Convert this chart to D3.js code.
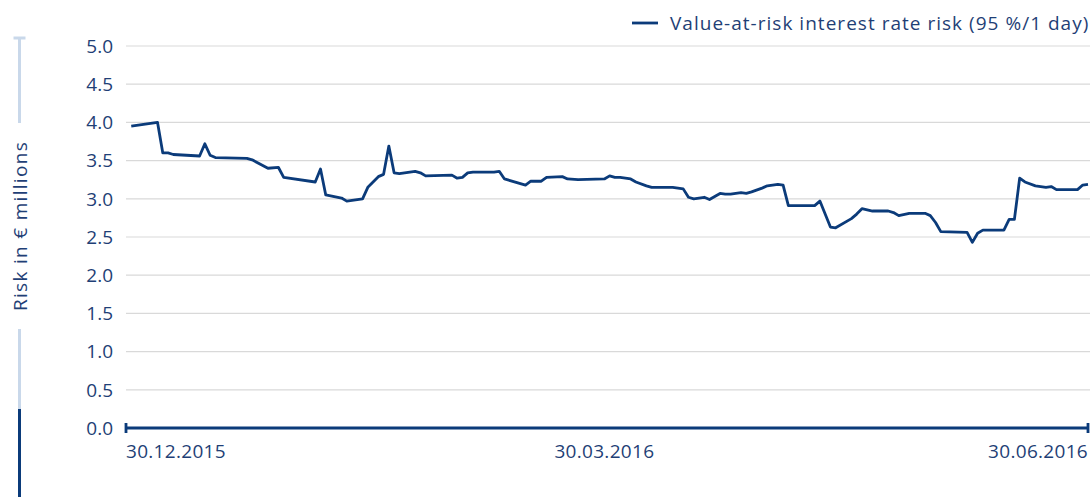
<!DOCTYPE html>
<html>
<head>
<meta charset="utf-8">
<script src="https://cdn.jsdelivr.net/npm/d3@7"></script>
<style>
  body { margin: 0; background: #fff; }
  svg { display: block; font-family: "Open Sans", sans-serif; }
</style>
</head>
<body>
<div id="chart"></div>
<script>
// values (risk in € millions)
const dates = [
  "2015-12-31","2016-01-05","2016-01-06","2016-01-07","2016-01-08","2016-01-13","2016-01-14","2016-01-15",
  "2016-01-16","2016-01-22","2016-01-23","2016-01-26","2016-01-28","2016-01-29","2016-02-04","2016-02-05",
  "2016-02-06","2016-02-09","2016-02-10","2016-02-13","2016-02-14","2016-02-16","2016-02-17","2016-02-18",
  "2016-02-19","2016-02-20","2016-02-23","2016-02-24","2016-02-25","2016-03-01","2016-03-02","2016-03-03",
  "2016-03-04","2016-03-05","2016-03-09","2016-03-10","2016-03-11","2016-03-15","2016-03-16","2016-03-18",
  "2016-03-19","2016-03-22","2016-03-23","2016-03-25","2016-03-30","2016-03-31","2016-04-01","2016-04-02",
  "2016-04-04","2016-04-05","2016-04-07","2016-04-08","2016-04-12","2016-04-13","2016-04-14","2016-04-15",
  "2016-04-16","2016-04-18","2016-04-19","2016-04-21","2016-04-22","2016-04-23","2016-04-25","2016-04-26",
  "2016-04-27","2016-04-29","2016-04-30","2016-05-02","2016-05-03","2016-05-04","2016-05-09","2016-05-10",
  "2016-05-12","2016-05-13","2016-05-16","2016-05-17","2016-05-18","2016-05-20","2016-05-23","2016-05-24",
  "2016-05-25","2016-05-27","2016-05-30","2016-05-31","2016-06-01","2016-06-02","2016-06-07","2016-06-08",
  "2016-06-09","2016-06-10","2016-06-14","2016-06-15","2016-06-16","2016-06-17","2016-06-18","2016-06-20",
  "2016-06-22","2016-06-23","2016-06-24","2016-06-28","2016-06-29","2016-06-30"
];
const varValues = [
  3.95, 4.00, 3.60, 3.60, 3.58, 3.56, 3.72, 3.57,
  3.54, 3.53, 3.51, 3.40, 3.41, 3.28, 3.22, 3.39,
  3.05, 3.01, 2.97, 3.00, 3.15, 3.29, 3.32, 3.69,
  3.34, 3.33, 3.36, 3.34, 3.30, 3.31, 3.27, 3.28,
  3.34, 3.35, 3.35, 3.36, 3.26, 3.18, 3.23, 3.23,
  3.28, 3.29, 3.26, 3.25, 3.26, 3.30, 3.28, 3.28,
  3.26, 3.22, 3.17, 3.15, 3.15, 3.14, 3.13, 3.02,
  3.00, 3.02, 2.99, 3.07, 3.06, 3.06, 3.08, 3.07,
  3.09, 3.14, 3.17, 3.19, 3.18, 2.91, 2.91, 2.97,
  2.63, 2.62, 2.74, 2.80, 2.87, 2.84, 2.84, 2.82,
  2.78, 2.81, 2.81, 2.78, 2.69, 2.57, 2.56, 2.43,
  2.55, 2.59, 2.59, 2.73, 2.73, 3.27, 3.22, 3.17,
  3.15, 3.16, 3.12, 3.12, 3.18, 3.19
];
const yTicks = [0, 0.5, 1, 1.5, 2, 2.5, 3, 3.5, 4, 4.5, 5];
const xTickDates = ["2015-12-30", "2016-03-30", "2016-06-30"];
const xTickLabels = ["30.12.2015", "30.03.2016", "30.06.2016"];
const seriesName = "Value-at-risk interest rate risk (95 %/1 day)";
const yTitle = "Risk in € millions";

const width = 1090, height = 497;
const navy = "#0b3b7a", textCol = "#1f3f76", grid = "#d9d9d9", pale = "#c9d8ea";

const parse = d3.utcParse("%Y-%m-%d");
const data = dates.map((d, i) => ({ date: parse(d), value: varValues[i] }));

const svg = d3.select("#chart").append("svg")
    .attr("width", width)
    .attr("height", height);

const x = d3.scaleUtc()
    .domain([parse(xTickDates[0]), parse(xTickDates[2])])
    .range([126, 1088]);
const y = d3.scaleLinear()
    .domain([0, 5])
    .range([428, 46]);

// gridlines
svg.append("g")
    .selectAll("line")
    .data(yTicks.filter(t => t > 0))
    .join("line")
    .attr("x1", 126).attr("x2", width)
    .attr("y1", d => y(d)).attr("y2", d => y(d))
    .attr("stroke", grid)
    .attr("stroke-width", 1.2);

// y tick labels
svg.append("g")
    .selectAll("text")
    .data(yTicks)
    .join("text")
    .attr("x", 113)
    .attr("y", d => y(d))
    .attr("dy", "0.36em")
    .attr("text-anchor", "end")
    .attr("fill", textCol)
    .style("font-size", "19px")
    .text(d => d.toFixed(1));

// x axis line with end caps
svg.append("line")
    .attr("x1", x.range()[0]).attr("x2", x.range()[1])
    .attr("y1", y(0)).attr("y2", y(0))
    .attr("stroke", navy).attr("stroke-width", 2.8);
svg.append("g")
    .selectAll("line")
    .data(x.range())
    .join("line")
    .attr("x1", d => d).attr("x2", d => d)
    .attr("y1", y(0) - 5).attr("y2", y(0) + 5)
    .attr("stroke", navy).attr("stroke-width", 2.8);

// x labels
svg.append("g")
    .selectAll("text")
    .data(xTickDates)
    .join("text")
    .attr("x", d => x(parse(d)))
    .attr("y", 458)
    .attr("text-anchor", (d, i) => i === 0 ? "start" : i === 2 ? "end" : "middle")
    .attr("fill", textCol)
    .style("font-size", "19px")
    .style("letter-spacing", "0.3px")
    .text((d, i) => xTickLabels[i]);

// the series
const line = d3.line()
    .x(d => x(d.date))
    .y(d => y(d.value));
svg.append("path")
    .datum(data)
    .attr("d", line)
    .attr("fill", "none")
    .attr("stroke", navy)
    .attr("stroke-width", 2.8)
    .attr("stroke-linejoin", "round");

// legend
svg.append("line")
    .attr("x1", 632).attr("x2", 658)
    .attr("y1", 23).attr("y2", 23)
    .attr("stroke", navy).attr("stroke-width", 2.8);
svg.append("text")
    .attr("x", 670).attr("y", 30)
    .attr("fill", textCol)
    .style("font-size", "19px")
    .style("letter-spacing", "1.02px")
    .text(seriesName);

// y title with decorative rail
const railX = 19.5;
svg.append("line")
    .attr("x1", railX).attr("x2", railX).attr("y1", 37).attr("y2", 123)
    .attr("stroke", pale).attr("stroke-width", 3);
svg.append("line")
    .attr("x1", railX - 6).attr("x2", railX + 6).attr("y1", 38).attr("y2", 38)
    .attr("stroke", pale).attr("stroke-width", 3);
svg.append("line")
    .attr("x1", railX).attr("x2", railX).attr("y1", 329).attr("y2", 409)
    .attr("stroke", pale).attr("stroke-width", 3);
svg.append("line")
    .attr("x1", railX).attr("x2", railX).attr("y1", 409).attr("y2", height)
    .attr("stroke", navy).attr("stroke-width", 3);
svg.append("text")
    .attr("transform", `translate(${railX + 7}, 226) rotate(-90)`)
    .attr("text-anchor", "middle")
    .attr("fill", textCol)
    .style("font-size", "19px")
    .style("letter-spacing", "1.3px")
    .text(yTitle);
</script>
</body>
</html>
